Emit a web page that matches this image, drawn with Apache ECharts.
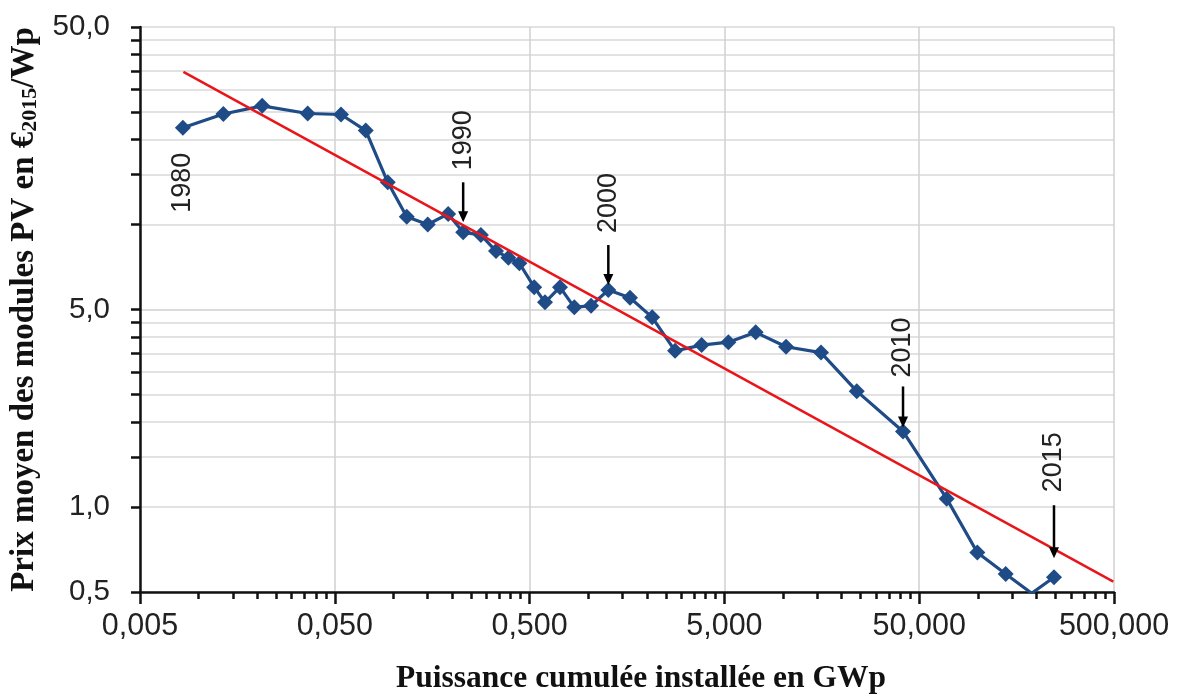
<!DOCTYPE html>
<html><head><meta charset="utf-8">
<script src="https://cdn.jsdelivr.net/npm/echarts@6/dist/echarts.min.js"></script>
<style>html,body{margin:0;padding:0;background:#fff}#c{width:1181px;height:695px}</style>
</head><body><div id="c"></div>
<script>
// ---- data ----
const years = [1980,1981,1982,1983,1984,1985,1986,1987,1988,1989,1990,1991,1992,1993,1994,1995,1996,1997,1998,1999,2000,2001,2002,2003,2004,2005,2006,2007,2008,2009,2010,2011,2012,2013,2014,2015];
const capacity = [0.0083,0.0134,0.0212,0.0363,0.0538,0.0721,0.0935,0.117,0.150,0.191,0.228,0.281,0.336,0.389,0.443,0.528,0.600,0.716,0.848,1.034,1.268,1.638,2.13,2.79,3.82,5.24,7.24,10.36,15.66,23.9,41.3,69.2,99.4,139,189,246];
const price = [22.0,24.6,26.3,24.7,24.5,21.5,14.1,10.65,10.0,10.9,9.38,9.18,8.05,7.63,7.29,6.0,5.3,6.0,5.09,5.16,5.86,5.50,4.69,3.57,3.74,3.83,4.15,3.69,3.52,2.57,1.85,1.07,0.69,0.579,0.495,0.564];
const trendX = [0.00835, 496];
const trendY = [34.7, 0.544];
const xMajorTicks = [0.005,0.05,0.5,5,50,500];
const yDecadeStarts = [0.5,5];
const yLabelTicks = [0.5,1,5,50];
const annotatedYears = [1980,1990,2000,2010,2015];
const xTitle = 'Puissance cumulée installée en GWp';
const yTitle = 'Prix moyen des modules PV en €{sub|2015}/Wp';

// ---- layout / styling ----
const annLayout = {
  1980:{below:true, gap:25},
  1990:{tipGap:10, len:40, textGap:12},
  2000:{tipGap:5, len:40, textGap:12},
  2010:{tipGap:4, len:41, textGap:9},
  2015:{tipGap:19, len:53, textGap:13}
};
const xMinorTicks = [];
xMajorTicks.slice(0,-1).forEach(b => { for (let k=2;k<=9;k++) xMinorTicks.push(+(b*k).toPrecision(6)); });
const yTicks = [];
yDecadeStarts.forEach(b => { for (let k=1;k<=10;k++) yTicks.push(+(b*k).toPrecision(6)); });
const fmt = (v, d) => Number(v).toFixed(d).replace('.', ',');

const chart = echarts.init(document.getElementById('c'));
const blue = '#1f4b87', red = '#e8161b';

chart.setOption({
  animation:false,
  backgroundColor:'#fff',
  grid:{left:140, right:67, top:27, bottom:103, containLabel:false, outerBoundsMode:'none'},
  xAxis:[{
    type:'log', logBase:10, min:0.005, max:500,
    name:xTitle, nameLocation:'middle', nameGap:71,
    nameTextStyle:{fontFamily:'Liberation Serif', fontWeight:'bold', fontSize:31.5, color:'#111', padding:[0,0,0,28]},
    axisLine:{show:true, lineStyle:{color:'#111', width:2.5}},
    axisTick:{show:true, inside:false, length:12, customValues:xMajorTicks, lineStyle:{color:'#111', width:2.5}},
    axisLabel:{show:true, margin:19, customValues:xMajorTicks, formatter:v => fmt(v,3),
      fontFamily:'Liberation Sans', fontSize:30.5, color:'#222'},
    splitLine:{show:true, lineStyle:{color:'#d0d0d0', width:1.5}},
    minorTick:{show:false}, minorSplitLine:{show:false}
  },{
    type:'log', logBase:10, min:0.005, max:500, position:'bottom', offset:0,
    axisLine:{show:false},
    axisTick:{show:true, inside:false, length:7, customValues:xMinorTicks, lineStyle:{color:'#111', width:2.5}},
    axisLabel:{show:false},
    splitLine:{show:false}
  }],
  yAxis:[{
    type:'log', logBase:10, min:0.5, max:50,
    name:yTitle, nameLocation:'middle', nameGap:96,
    nameTextStyle:{fontFamily:'Liberation Serif', fontWeight:'bold', fontSize:33, color:'#111',
      rich:{sub:{fontFamily:'Liberation Serif', fontWeight:'bold', fontSize:22, color:'#111', verticalAlign:'bottom', padding:[12,0,0,0]}}},
    axisLine:{show:true, lineStyle:{color:'#111', width:2.5}},
    axisTick:{show:true, inside:false, length:9, customValues:yTicks, lineStyle:{color:'#111', width:2.5}},
    axisLabel:{show:true, margin:30, customValues:yLabelTicks, formatter:v => fmt(v,1),
      fontFamily:'Liberation Sans', fontSize:29.5, color:'#222'},
    splitLine:{show:true, lineStyle:{color:'#d8d8d8', width:1.5}},
    minorTick:{show:false}, minorSplitLine:{show:false}
  }],
  series:[{
    name:'Prix', type:'line', xAxisIndex:0, yAxisIndex:0,
    data: capacity.map((c,i) => [c, price[i]]),
    symbol:'diamond', symbolSize:[16,16], showAllSymbol:true,
    lineStyle:{color:blue, width:3.2}, itemStyle:{color:blue}, z:2
  },{
    name:'Tendance', type:'line', xAxisIndex:0, yAxisIndex:0,
    data: trendX.map((x,i) => [x, trendY[i]]),
    symbol:'none', lineStyle:{color:red, width:2.5}, z:3
  },{
    name:'Années', type:'custom', xAxisIndex:0, yAxisIndex:0, clip:false, z:4,
    data: annotatedYears.map(y => { const i = years.indexOf(y); return [capacity[i], price[i], y]; }),
    renderItem:(params, api) => {
      const p = api.coord([api.value(0), api.value(1)]);
      const yr = api.value(2);
      const L = annLayout[yr];
      const font = '27px "Liberation Sans"';
      const children = [];
      if (L.below) {
        children.push({type:'text', x:p[0], y:p[1]+L.gap, rotation:Math.PI/2,
          style:{text:String(yr), font, fill:'#222', align:'right', verticalAlign:'middle', textAlign:'right', textVerticalAlign:'middle'}});
      } else {
        const tip = p[1]-L.tipGap, tail = tip-L.len;
        children.push({type:'line', shape:{x1:p[0], y1:tail, x2:p[0], y2:tip-8}, style:{stroke:'#000', lineWidth:2.5}});
        children.push({type:'polygon', shape:{points:[[p[0]-5,tip-11],[p[0]+5,tip-11],[p[0],tip]]}, style:{fill:'#000'}});
        children.push({type:'text', x:p[0], y:tail-L.textGap, rotation:Math.PI/2,
          style:{text:String(yr), font, fill:'#222', align:'left', verticalAlign:'middle', textAlign:'left', textVerticalAlign:'middle'}});
      }
      return {type:'group', children};
    }
  }]
});
</script></body></html>
